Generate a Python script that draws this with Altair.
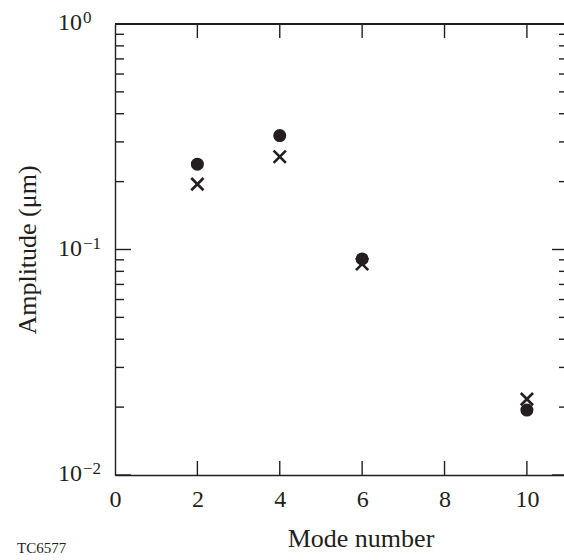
import altair as alt
import pandas as pd

# ---- data ----
modes = [2, 4, 6, 10]
amp_circle = [0.239, 0.320, 0.0908, 0.0194]
amp_cross = [0.195, 0.258, 0.0863, 0.0217]

x_tick_values = [2, 4, 6, 8, 10]
x_label_values = [0, 2, 4, 6, 8, 10]
y_major = [0.01, 0.1, 1]
y_minor = [0.02, 0.03, 0.04, 0.05, 0.06, 0.07, 0.08, 0.09,
           0.2, 0.3, 0.4, 0.5, 0.6, 0.7, 0.8, 0.9]
y_label_vals = [1, 0.1, 0.01]
y_label_exps = ["0", "\u22121", "\u22122"]

FONT = "Liberation Serif"
INK = "#231f20"
W, H = 449, 451

df = pd.DataFrame({"mode": modes, "circ": amp_circle, "cross": amp_cross})
ylab = pd.DataFrame({"val": y_label_vals, "exp": y_label_exps})
ymaj = pd.DataFrame({"v": y_major})
ymin = pd.DataFrame({"v": y_minor})
xt = pd.DataFrame({"v": x_tick_values})

xscale = alt.Scale(domain=[0, W / 41.19], nice=False, zero=False)
yscale = alt.Scale(type="log", domain=[0.01, 1], nice=False)

xaxis = alt.Axis(values=x_label_values, ticks=False, tickSize=0, grid=False,
                 labelFont=FONT, labelFontSize=24, labelColor=INK,
                 labelBaseline="alphabetic", labelPadding=31, labelFlush=False,
                 domainColor=INK, domainWidth=1.4,
                 title="Mode number", titleFont=FONT, titleFontSize=26,
                 titleFontWeight="normal", titleColor=INK,
                 titleX=245.5, titleY=71, titleAlign="center",
                 titleBaseline="alphabetic")
yaxis = alt.Axis(labels=False, ticks=False, tickSize=0, grid=False,
                 domainColor=INK, domainWidth=1.4,
                 title="Amplitude (\u03bcm)", titleFont=FONT, titleFontSize=26,
                 titleFontWeight="normal", titleColor=INK, titleAngle=-90,
                 titleX=-80, titleY=H / 2, titleAlign="center",
                 titleBaseline="alphabetic")

circles = alt.Chart(df).mark_point(shape="circle", filled=True, size=170,
                                   color=INK, opacity=1).encode(
    x=alt.X("mode:Q", scale=xscale, axis=xaxis),
    y=alt.Y("circ:Q", scale=yscale, axis=yaxis),
)
crosses = alt.Chart(df).mark_point(shape="M-1,-1L1,1M-1,1L1,-1", filled=False,
                                   size=150, stroke=INK, strokeWidth=2.6,
                                   opacity=1).encode(
    x=alt.X("mode:Q", scale=xscale),
    y=alt.Y("cross:Q", scale=yscale),
)

rule_style = dict(color=INK, strokeWidth=1.4)
left_major = alt.Chart(ymaj).mark_rule(**rule_style).encode(
    y=alt.Y("v:Q", scale=yscale), x=alt.value(0), x2=alt.value(16))
left_minor = alt.Chart(ymin).mark_rule(**rule_style).encode(
    y=alt.Y("v:Q", scale=yscale), x=alt.value(0), x2=alt.value(9))
right_major = alt.Chart(ymaj).mark_rule(**rule_style).encode(
    y=alt.Y("v:Q", scale=yscale), x=alt.value(W - 12), x2=alt.value(W))
right_minor = alt.Chart(ymin).mark_rule(**rule_style).encode(
    y=alt.Y("v:Q", scale=yscale), x=alt.value(W - 5), x2=alt.value(W))
bottom_ticks = alt.Chart(xt).mark_rule(**rule_style).encode(
    x=alt.X("v:Q", scale=xscale), y=alt.value(H), y2=alt.value(H - 14))
top_ticks = alt.Chart(xt).mark_rule(**rule_style).encode(
    x=alt.X("v:Q", scale=xscale), y=alt.value(0), y2=alt.value(14))
top_spine = alt.Chart(xt).mark_rule(**rule_style).encode(
    x=alt.value(0), x2=alt.value(W), y=alt.value(0))

ten = alt.Chart(ylab).mark_text(text="10", align="right", baseline="alphabetic",
                                font=FONT, fontSize=24, color=INK, dy=6).encode(
    x=alt.value(-33), y=alt.Y("val:Q", scale=yscale))
exps = alt.Chart(ylab).mark_text(align="left", baseline="alphabetic",
                                 font=FONT, fontSize=17, color=INK, dy=-1).encode(
    x=alt.value(-32), y=alt.Y("val:Q", scale=yscale), text="exp:N")

tag = alt.Chart(pd.DataFrame({"t": ["TC6577"]})).mark_text(
    align="left", baseline="alphabetic", font=FONT, fontSize=15, color=INK).encode(
    x=alt.value(-98), y=alt.value(529), text="t:N")

chart = alt.layer(
    circles, crosses, left_major, left_minor, right_major, right_minor,
    bottom_ticks, top_ticks, top_spine, ten, exps, tag,
).properties(
    width=W, height=H,
    autosize=alt.AutoSizeParams(type="none"),
    padding={"left": 115, "top": 24, "right": 0, "bottom": 85},
    background="white",
).configure_view(stroke=None)

chart.save("out.html", embed_options={"renderer": "svg", "actions": False})
